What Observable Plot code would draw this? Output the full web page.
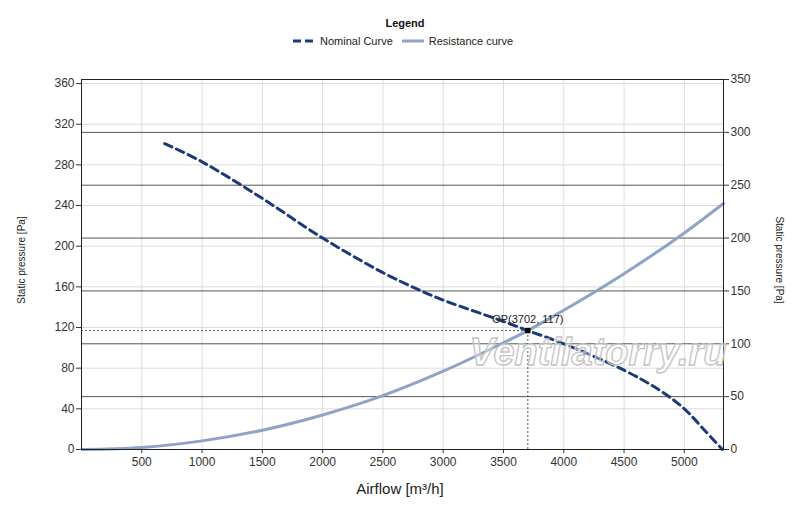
<!DOCTYPE html>
<html>
<head>
<meta charset="utf-8">
<script src="https://cdn.jsdelivr.net/npm/d3@7"></script>
<script src="https://cdn.jsdelivr.net/npm/@observablehq/plot@0.6"></script>
<style>
  body { margin:0; background:#fff; font-family:"Liberation Sans", Arial, sans-serif; }
  #legend { height:60px; position:relative; width:800px; }
  #legend .title { position:absolute; top:17px; left:0; width:810px; text-align:center; font-weight:bold; font-size:11px; color:#111; }
  #legend .items { position:absolute; top:35px; left:292px; font-size:11px; color:#222; display:flex; align-items:center; }
  #legend .item { display:flex; align-items:center; margin-right:8px; }
  #legend svg { margin-right:4px; }
</style>
</head>
<body>
<div id="legend">
  <div class="title">Legend</div>
  <div class="items">
    <div class="item"><svg width="24" height="8"><line x1="1" y1="4" x2="23" y2="4" stroke="#1c3a78" stroke-width="3" stroke-dasharray="8,4"/></svg>Nominal Curve</div>
    <div class="item"><svg width="24" height="8"><line x1="1" y1="4" x2="23" y2="4" stroke="#8ea3c6" stroke-width="3"/></svg>Resistance curve</div>
  </div>
</div>
<div id="chart"></div>
<script>
// Nominal fan curve (airflow m3/h, static pressure Pa)
const nominalQ = [690, 1000, 1500, 2000, 2500, 2800, 3000, 3500, 3702, 4000, 4500, 4800, 5000, 5160, 5315];
const nominalP = [301, 283, 247, 208, 174, 157, 147, 126, 117, 104, 78, 58, 40, 20, 0];
// Resistance curve
const resistQ = [0, 500, 1000, 1500, 2000, 2500, 3000, 3500, 3702, 4000, 4500, 5000, 5325];
const resistP = [0, 2, 8.5, 19, 34, 53, 77, 105, 117, 137, 173, 213, 242];
// Operating point
const opQ = 3702, opP = 117;
// Axis ticks
const xTicks = [500, 1000, 1500, 2000, 2500, 3000, 3500, 4000, 4500, 5000];
const leftTicks = [0, 40, 80, 120, 160, 200, 240, 280, 320, 360];
const rightTicks = [0, 50, 100, 150, 200, 250, 300, 350];

const leftMax = 364, rightMax = 350;
const k = leftMax / rightMax;

const nominal = nominalQ.map((q, i) => ({q, p: nominalP[i]}));
const resist = resistQ.map((q, i) => ({q, p: resistP[i]}));
const op = [{q: opQ, p: opP}];

const plot = Plot.plot({
  width: 800,
  height: 447,
  marginTop: 19,
  marginBottom: 58,
  marginLeft: 81,
  marginRight: 77,
  x: {domain: [0, 5325]},
  y: {domain: [0, leftMax]},
  style: {fontFamily: "Liberation Sans, Arial, sans-serif", fontSize: "12px", color: "#333", background: "#fff"},
  marks: [
    Plot.gridX(xTicks, {stroke: "#dcdcdc", strokeOpacity: 1}),
    Plot.gridY(leftTicks, {stroke: "#dcdcdc", strokeOpacity: 1}),
    Plot.gridY(rightTicks.map(r => r * k), {stroke: "#555", strokeOpacity: 1}),
    Plot.axisX(xTicks, {label: null, tickSize: 4, tickPadding: 4, stroke: "#333", fill: "#333", tickFormat: d => String(d)}),
    Plot.axisY(leftTicks, {anchor: "left", label: null, tickSize: 5, tickPadding: 2, fill: "#333"}),
    Plot.axisY(rightTicks.map(r => r * k), {anchor: "right", label: null, tickSize: 5, tickPadding: 2, tickFormat: d => Math.round(d / k), fill: "#333"}),
    Plot.line(resist, {x: "q", y: "p", stroke: "#8ea3c6", strokeWidth: 3, curve: "monotone-x"}),
    Plot.line(nominal, {x: "q", y: "p", stroke: "#1c3a78", strokeWidth: 3, strokeDasharray: "8,5", curve: "catmull-rom"}),
    Plot.ruleY(op, {y: "p", x1: 0, x2: "q", stroke: "#555", strokeWidth: 1, strokeDasharray: "2,2"}),
    Plot.ruleX(op, {x: "q", y1: 0, y2: "p", stroke: "#555", strokeWidth: 1, strokeDasharray: "2,2"}),
    Plot.dot(op, {x: "q", y: "p", symbol: "square", fill: "#000", r: 3}),
    Plot.text(op, {x: "q", y: "p", text: d => `OP(${d.q}, ${d.p})`, dy: -11, fontSize: 11, fill: "#222"}),
    Plot.frame({stroke: "#222"})
  ]
});
document.getElementById("chart").appendChild(plot);

const svg = d3.select(plot);
// watermark
svg.append("text")
  .attr("x", 598).attr("y", 305)
  .attr("text-anchor", "middle")
  .attr("font-size", 38).attr("font-style", "italic").attr("font-weight", "bold")
  .attr("font-family", "Liberation Sans, Arial, sans-serif")
  .attr("fill", "#ffffff").attr("fill-opacity", 0.35)
  .attr("stroke", "#c4c4c4").attr("stroke-width", 1.3)
  .text("Ventilatorry.ru");
// axis titles
svg.append("text")
  .attr("transform", "translate(25,200) rotate(-90)")
  .attr("text-anchor", "middle").attr("font-size", 10).attr("fill", "#222")
  .text("Static pressure [Pa]");
svg.append("text")
  .attr("transform", "translate(776,200) rotate(90)")
  .attr("text-anchor", "middle").attr("font-size", 10).attr("fill", "#222")
  .text("Static pressure [Pa]");
svg.append("text")
  .attr("x", 400).attr("y", 434)
  .attr("text-anchor", "middle").attr("font-size", 15).attr("fill", "#222")
  .text("Airflow [m³/h]");
</script>
</body>
</html>
